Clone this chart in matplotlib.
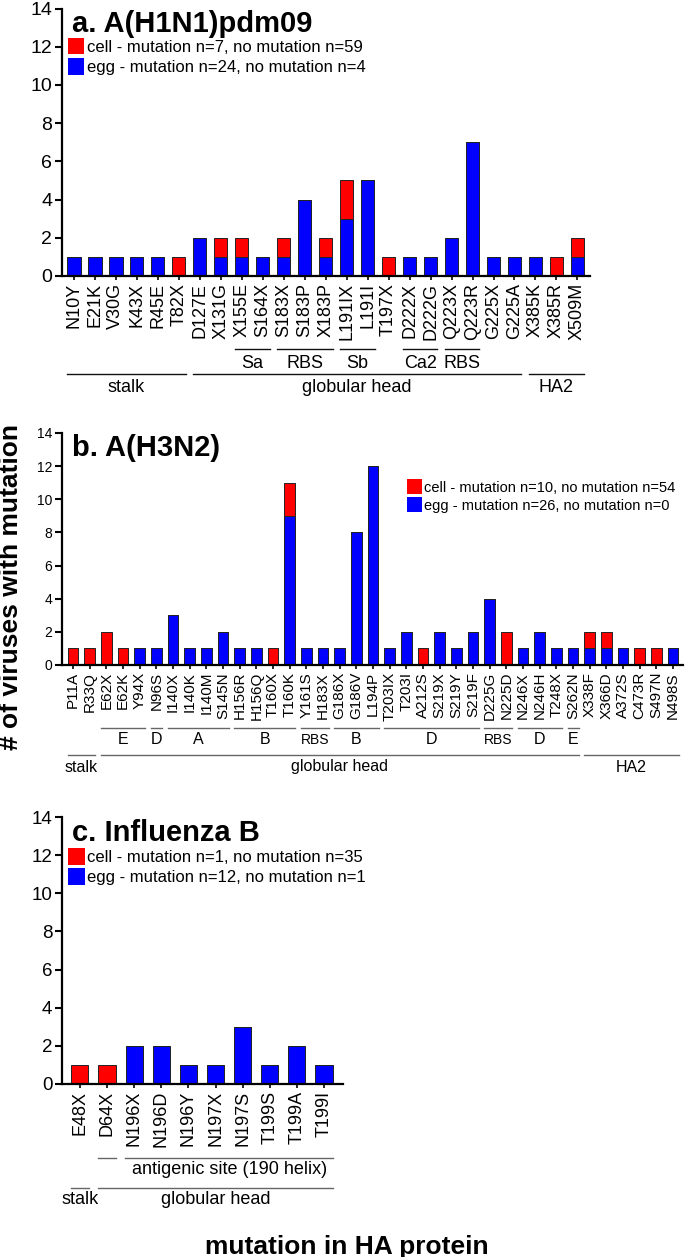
import matplotlib
matplotlib.use('Agg')
import matplotlib.pyplot as plt
import matplotlib.transforms as mtransforms
from matplotlib.patches import Patch

plt.rcParams['font.family'] = ['Liberation Sans', 'DejaVu Sans']

# ---- a. A(H1N1)pdm09 ----
h1_labels = ["N10Y", "E21K", "V30G", "K43X", "R45E", "T82X", "D127E", "X131G", "X155E",
             "S164X", "S183X", "S183P", "X183P", "L191IX", "L191I", "T197X", "D222X",
             "D222G", "Q223X", "Q223R", "G225X", "G225A", "X385K", "X385R", "X509M"]
h1_egg = [1, 1, 1, 1, 1, 0, 2, 1, 1, 1, 1, 4, 1, 3, 5, 0, 1, 1, 2, 7, 1, 1, 1, 0, 1]
h1_cell = [0, 0, 0, 0, 0, 1, 0, 1, 1, 0, 1, 0, 1, 2, 0, 1, 0, 0, 0, 0, 0, 0, 0, 1, 1]
h1_legend = ["cell - mutation n=7, no mutation n=59", "egg - mutation n=24, no mutation n=4"]
h1_sites = [("Sa", "X155E", "S164X"), ("RBS", "S183X", "X183P"), ("Sb", "L191IX", "L191I"),
            ("Ca2", "D222X", "D222G"), ("RBS", "Q223X", "Q223R")]
h1_regions = [("stalk", "N10Y", "T82X"), ("globular head", "D127E", "G225A"),
              ("HA2", "X385K", "X509M")]

# ---- b. A(H3N2) ----
h3_labels = ["P11A", "R33Q", "E62X", "E62K", "Y94X", "N96S", "I140X", "I140K", "I140M",
             "S145N", "H156R", "H156Q", "T160X", "T160K", "Y161S", "H183X", "G186X",
             "G186V", "L194P", "T203IX", "T203I", "A212S", "S219X", "S219Y", "S219F",
             "D225G", "N225D", "N246X", "N246H", "T248X", "S262N", "X338F", "X366D",
             "A372S", "C473R", "S497N", "N498S"]
h3_egg = [0, 0, 0, 0, 1, 1, 3, 1, 1, 2, 1, 1, 0, 9, 1, 1, 1, 8, 12, 1, 2, 0, 2, 1, 2,
          4, 0, 1, 2, 1, 1, 1, 1, 1, 0, 0, 1]
h3_cell = [1, 1, 2, 1, 0, 0, 0, 0, 0, 0, 0, 0, 1, 2, 0, 0, 0, 0, 0, 0, 0, 1, 0, 0, 0,
           0, 2, 0, 0, 0, 0, 1, 1, 0, 1, 1, 0]
h3_legend = ["cell - mutation n=10, no mutation n=54", "egg - mutation n=26, no mutation n=0"]
h3_sites = [("E", "E62X", "Y94X"), ("D", "N96S", "N96S"), ("A", "I140X", "S145N"),
            ("B", "H156R", "T160K"), ("RBS", "Y161S", "H183X"), ("B", "G186X", "L194P"),
            ("D", "T203IX", "S219F"), ("RBS", "D225G", "N225D"), ("D", "N246X", "T248X"),
            ("E", "S262N", "S262N")]
h3_regions = [("stalk", "P11A", "R33Q"), ("globular head", "E62X", "S262N"),
              ("HA2", "X338F", "N498S")]

# ---- c. Influenza B ----
b_labels = ["E48X", "D64X", "N196X", "N196D", "N196Y", "N197X", "N197S", "T199S", "T199A", "T199I"]
b_egg = [0, 0, 2, 2, 1, 1, 3, 1, 2, 1]
b_cell = [1, 1, 0, 0, 0, 0, 0, 0, 0, 0]
b_legend = ["cell - mutation n=1, no mutation n=35", "egg - mutation n=12, no mutation n=1"]
b_sites = [("", "D64X", "D64X"), ("antigenic site (190 helix)", "N196X", "T199I")]
b_regions = [("stalk", "E48X", "E48X"), ("globular head", "D64X", "T199I")]

W, H = 685, 1257
RED = "#ff0000"
BLUE = "#0000ff"


def px_axes(fig, left, top, right, bottom):
    return fig.add_axes([left / W, 1 - bottom / H, (right - left) / W, (bottom - top) / H])


def below(ax, px):
    # offset below the x axis, given in pixels of the final image
    return ax.get_xaxis_transform() + mtransforms.ScaledTranslation(0, -px / 100, ax.figure.dpi_scale_trans)


def draw_panel(ax, labels, egg, cell, sites, regions, title, legend_texts, xlim,
               tick_fs, xtick_fs, site_fs, region_fs, legend_fs, legend_anchor,
               title_xy, offsets, line_color):
    x = list(range(len(labels)))
    ax.bar(x, egg, width=0.63, color=BLUE, edgecolor="#222222", linewidth=0.7, zorder=2)
    ax.bar(x, cell, width=0.63, bottom=egg, color=RED, edgecolor="#222222", linewidth=0.7, zorder=2)
    # hide zero height stubs
    ax.set_xlim(*xlim)
    ax.set_ylim(0, 14)
    ax.set_yticks(range(0, 15, 2))
    ax.set_xticks(x)
    ax.set_xticklabels(labels, rotation=90, fontsize=xtick_fs)
    ax.tick_params(axis='y', labelsize=tick_fs, length=5, width=1.5, pad=2)
    ax.tick_params(axis='x', length=3, width=1.2, pad=2)
    for s in ['top', 'right']:
        ax.spines[s].set_visible(False)
    for s in ['left', 'bottom']:
        ax.spines[s].set_linewidth(1.6)

    ax.text(title_xy[0], title_xy[1], title, transform=ax.transAxes, fontsize=21,
            fontweight='bold', va='baseline', ha='left')

    handles = [Patch(facecolor=RED, edgecolor='none'), Patch(facecolor=BLUE, edgecolor='none')]
    ax.legend(handles, legend_texts, loc='upper left', bbox_to_anchor=legend_anchor,
              frameon=False, fontsize=legend_fs, handlelength=1.0, handleheight=1.15,
              handletextpad=0.15, labelspacing=0.2, borderpad=0, borderaxespad=0)

    sub_line, sub_lab, big_line, big_lab = offsets
    pad = 0.33
    for name, a, b in sites:
        i0, i1 = labels.index(a), labels.index(b)
        ax.plot([i0 - pad, i1 + pad], [0, 0], transform=below(ax, sub_line), color=line_color,
                lw=1.0, clip_on=False)
        fs = site_fs - 1.5 if name == "RBS" and site_fs < 12 else site_fs
        ax.text((i0 + i1) / 2, 0, name, transform=below(ax, sub_lab), ha='center', va='center',
                fontsize=fs)
    for name, a, b in regions:
        i0, i1 = labels.index(a), labels.index(b)
        ax.plot([i0 - pad, i1 + pad], [0, 0], transform=below(ax, big_line), color=line_color,
                lw=1.0, clip_on=False)
        ax.text((i0 + i1) / 2, 0, name, transform=below(ax, big_lab), ha='center', va='center',
                fontsize=region_fs)


fig = plt.figure(figsize=(W / 100, H / 100), dpi=100)

ax_a = px_axes(fig, 62, 8.5, 590, 276)
draw_panel(ax_a, h1_labels, h1_egg, h1_cell, h1_sites, h1_regions, "a. A(H1N1)pdm09", h1_legend,
           (-0.57, 24.6), 14, 13, 13, 13, 12, (0.011, 0.89), (0.019, 0.913),
           (73, 87, 98, 112), "#111111")

ax_b = px_axes(fig, 62, 433, 683, 665)
draw_panel(ax_b, h3_labels, h3_egg, h3_cell, h3_sites, h3_regions, "b. A(H3N2)", h3_legend,
           (-0.66, 36.6), 10, 11, 11.5, 11.5, 10.5, (0.556, 0.80), (0.016, 0.901),
           (63, 75, 90, 102), "#666666")

ax_c = px_axes(fig, 62, 817, 343, 1084)
draw_panel(ax_c, b_labels, b_egg, b_cell, b_sites, b_regions, "c. Influenza B", b_legend,
           (-0.66, 9.7), 13.5, 13, 13, 13, 12, (0.021, 0.884), (0.036, 0.911),
           (74, 85, 104, 116), "#666666")

fig.text(11 / W, 1 - 587 / H, "# of viruses with mutation", rotation=90, fontsize=19,
         fontweight='bold', ha='center', va='center')
fig.text(347 / W, 1 - 1247 / H, "mutation in HA protein", fontsize=19,
         fontweight='bold', ha='center', va='center')

fig.savefig("out.png", dpi=100)
